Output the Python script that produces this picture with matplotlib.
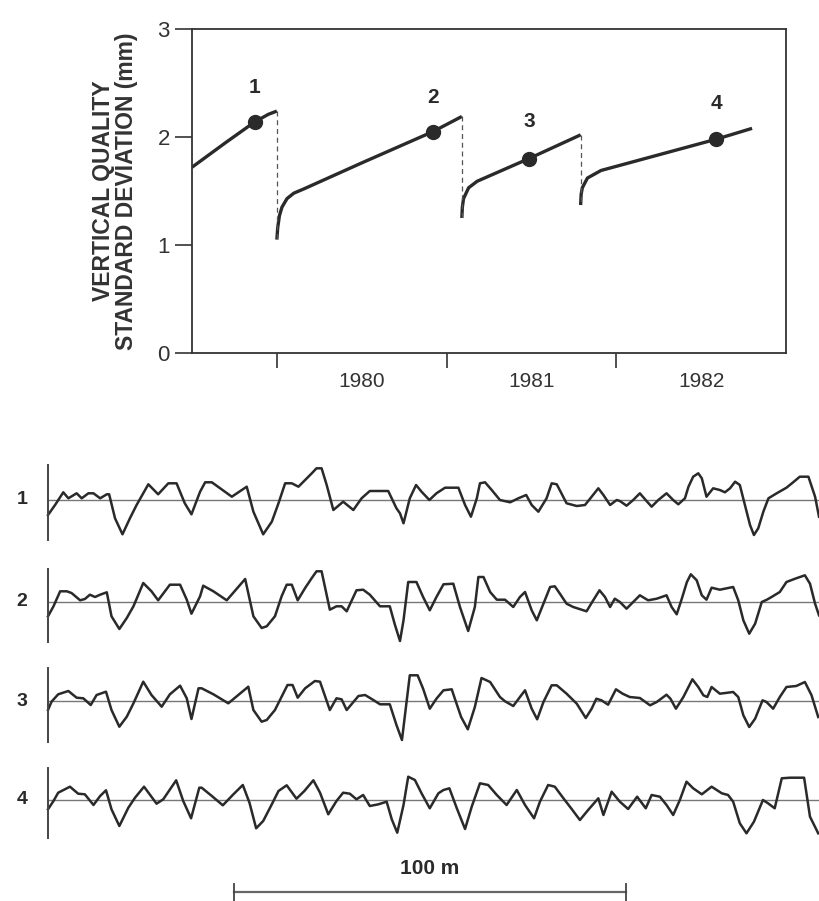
import matplotlib
matplotlib.use("Agg")
import matplotlib.pyplot as plt

plt.rcParams['font.family'] = ['Liberation Sans', 'DejaVu Sans']

# ---------------- Top chart data ----------------
seg1_t = [1979.50, 1979.70, 1979.87, 1979.95, 1980.00]
seg1_v = [1.72, 1.95, 2.14, 2.21, 2.24]
seg2_t = [1980.00, 1980.005, 1980.015, 1980.03, 1980.06, 1980.10, 1980.16, 1980.50, 1980.92, 1981.09]
seg2_v = [1.05, 1.16, 1.27, 1.35, 1.43, 1.48, 1.52, 1.76, 2.05, 2.19]
seg3_t = [1981.09, 1981.093, 1981.10, 1981.13, 1981.18, 1981.485, 1981.79]
seg3_v = [1.25, 1.35, 1.43, 1.53, 1.59, 1.80, 2.02]
seg4_t = [1981.79, 1981.793, 1981.80, 1981.83, 1981.91, 1982.59, 1982.80]
seg4_v = [1.37, 1.47, 1.53, 1.62, 1.69, 1.98, 2.08]
dot_t = [1979.87, 1980.92, 1981.485, 1982.59]
dot_v = [2.14, 2.05, 1.80, 1.98]
dot_labels = ["1", "2", "3", "4"]
label_v = [2.46, 2.37, 2.14, 2.31]
year_ticks = [1980, 1981, 1982]
year_labels = ["1980", "1981", "1982"]
y_ticks = [0, 1, 2, 3]

# ---------------- Bottom traces (distance m, deviation mm) ----------------
t1_d = [0, 1.8, 3.9, 5.2, 7.3, 8.6, 10.3, 11.6, 13.3, 15.0, 15.6, 17.1, 19.0, 20.9, 22.6, 25.6, 28.1,
        30.7, 32.8, 34.9, 36.6, 38.8, 40.1, 41.8, 46.9, 50.7, 52.4, 54.9, 57.1, 58.8, 60.5, 62.2,
        63.9, 65.6, 67.3, 68.5, 69.8, 71.1, 72.8, 75.3, 77.9, 80.0, 82.1, 86.8, 88.9,
        89.8, 90.7, 92.3, 93.9, 95.3, 97.3, 99.1, 101.3, 104.7, 106.4, 107.9, 109.4, 110.2, 111.5,
        113.2, 115.3, 117.9, 120.0, 122.0, 123.4, 125.1, 127.2, 128.5, 129.8, 132.3, 134.9, 137.0,
        138.7, 140.4, 141.7, 143.4, 145.1, 145.9, 147.6, 149.3, 151.0, 152.7, 154.0, 155.7, 157.8,
        159.5, 160.8, 162.5, 163.4, 164.6, 165.9, 166.8, 168.0, 169.7, 171.4, 172.7, 174.0, 175.3,
        176.5, 177.8, 179.1, 180.1, 181.2, 182.5, 183.8, 185.9, 188.4, 190.1, 191.8, 194.0, 195.7, 196.7]
t1_v = [-1.5, -0.5, 0.77, 0.17, 0.67, 0.17, 0.67, 0.67, 0.17, 0.57, 0.57, -1.83, -3.43, -1.83, -0.5,
        1.57, 0.57, 1.67, 1.67, -0.33, -1.43, 0.83, 1.77, 1.77, 0.33, 1.33, -1.17, -3.43, -2.17, -0.33,
        1.67, 1.67, 1.33, 2.0, 2.67, 3.17, 3.17, 1.5, -1.0, -0.17, -1.0, 0.17, 0.9, 0.9, -0.83,
        -1.33, -2.33, 0.17, 1.5, 0.83, 0.0, 0.67, 1.23, 1.23, -0.5, -1.67, 0.17, 1.67, 1.77,
        1.0, 0.0, -0.23, 0.17, 0.5, -0.5, -1.17, 0.17, 1.67, 1.57, -0.33, -0.6, -0.5,
        0.33, 1.17, 0.5, -0.5, 0.0, -0.1, -0.57, 0.0, 0.67, -0.1, -0.67, 0.0, 0.67,
        0.0, -0.43, 0.17, 1.33, 2.33, 2.67, 2.17, 0.33, 1.17, 1.0, 0.77, 1.17, 1.83,
        1.5, -0.5, -2.5, -3.5, -2.83, -1.17, 0.17, 0.67, 1.23, 1.77, 2.33, 2.33, 0.33, -1.67]

t2_d = [0, 1.4, 3.1, 4.8, 6.0, 8.2, 9.4, 10.7, 12.0, 13.3, 15.0, 16.2, 18.2, 20.1, 21.8, 24.3, 26.4,
        28.1, 31.1, 33.7, 35.4, 36.6, 38.8, 39.6, 42.2, 45.6, 50.3, 52.4, 54.5, 55.8, 57.9, 59.6,
        60.9, 62.2, 63.7, 65.6, 67.3, 68.5, 69.8, 71.9, 73.6, 74.9, 76.2, 78.7, 80.4, 82.1, 84.7,
        87.2, 88.5, 89.8,
        90.7, 91.9, 94.0, 95.7, 97.4, 99.1, 100.9, 103.4, 105.1, 107.2, 108.9, 109.8, 111.1, 112.8,
        114.5, 116.6, 118.7, 120.4, 121.7, 123.4, 124.7, 126.4, 128.1, 129.3, 130.6, 132.3, 134.0,
        137.4, 139.1, 140.7, 142.1, 143.4, 144.6, 145.9, 147.6, 149.3, 151.0, 153.1, 155.3, 157.8,
        159.1, 160.4, 161.7, 163.0, 164.0, 165.5, 166.8, 168.0, 169.3, 171.4, 174.8, 176.1, 177.4,
        178.9, 180.4, 182.1, 183.4, 184.6, 186.7, 188.4, 190.6, 193.1, 194.4, 195.7, 196.7]
t2_v = [-1.43, -0.43, 1.07, 1.07, 0.9, 0.17, 0.3, 0.73, 0.5, 0.73, 0.97, -1.43, -2.7, -1.6, -0.43,
        1.9, 1.07, 0.17, 1.73, 1.73, 0.23, -1.17, 0.57, 1.63, 1.07, 0.17, 2.3, -1.43, -2.6, -2.43,
        -1.43, 0.57, 1.73, 1.73, 0.17, 1.4, 2.4, 3.07, 3.07, -0.77, -0.43, -0.43, -0.93, 1.17, 1.23,
        0.73, -0.43, -0.43, -2.27, -3.9,
        -1.83, 2.0, 2.0, 0.5, -0.83, 0.5, 1.77, 1.83, -0.5, -2.9, -0.5, 2.5, 2.5, 1.0,
        0.23, 0.23, -0.5, 0.5, 1.0, -0.83, -1.83, -0.17, 1.5, 1.57, 0.83, -0.17, -0.5,
        -0.93, 0.17, 1.17, 0.5, -0.5, 0.33, 0.0, -0.67, 0.0, 0.67, 0.17, 0.33, 0.67,
        -0.5, -1.23, 0.33, 2.0, 2.77, 2.17, 0.67, 0.23, 1.43, 1.23, 1.5, 0.17, -1.83,
        -3.17, -2.17, 0.0, 0.23, 0.5, 1.0, 2.0, 2.33, 2.67, 1.83, -0.17, -1.33]

t3_d = [0, 0.9, 2.6, 5.2, 7.3, 9.0, 10.9, 12.4, 14.8, 16.2, 18.2, 20.1, 21.8, 24.3, 26.4, 29.0, 31.1,
        33.7, 35.4, 36.6, 38.4, 39.2, 42.2, 46.0, 51.1, 52.4, 54.5, 55.8, 57.9, 59.6, 61.1, 62.4,
        63.7, 65.6, 68.1, 69.4, 71.9, 73.6, 74.9, 76.2, 79.2, 80.9, 83.0, 84.7, 87.2, 88.9, 90.3,
        92.3, 94.3, 95.7, 97.4, 99.1, 100.9, 103.0, 103.8, 105.4, 107.1, 108.9, 110.6, 112.8, 115.3,
        116.6, 118.7, 120.4, 121.7, 123.4, 124.8, 126.4, 128.5, 129.8, 132.3, 134.9, 137.2, 138.7,
        139.9, 141.2, 142.9, 144.9, 146.6, 148.4, 151.0, 153.6, 155.3, 157.8, 158.8, 160.2, 162.1,
        164.4, 165.9, 167.2, 168.2, 169.3, 171.4, 174.8, 176.1, 177.4, 178.9, 180.4, 182.3, 183.3,
        185.0, 186.7, 188.4, 190.9, 193.1, 194.8, 196.5]
t3_v = [-0.9, -0.07, 0.67, 1.0, 0.33, 0.27, -0.4, 0.6, 0.93, -0.9, -2.57, -1.57, -0.23, 1.93, 0.6,
        -0.57, 0.67, 1.53, 0.27, -1.8, 1.27, 1.27, 0.67, -0.23, 1.43, -0.9, -2.07, -1.9, -0.9, 0.43,
        1.6, 1.6, 0.33, 1.27, 2.0, 1.93, -0.9, 0.27, 0.17, -0.9, 0.5, 0.6, 0.1, -0.33, -0.33, -2.4,
        -3.9,
        2.57, 2.57, 1.23, -0.77, 0.23, 1.07, 1.17, 0.23, -1.6, -2.83, -0.6, 2.3, 1.9, 0.4,
        -0.03, -0.5, 0.4, 1.07, -0.77, -1.83, -0.1, 1.57, 1.57, 0.73, -0.27, -1.7, -0.77,
        0.23, 0.07, -0.37, 1.17, 0.73, 0.4, 0.3, -0.43, -0.1, 0.63, 0.23, -0.77, 0.4,
        2.17, 1.4, 0.57, 0.4, 1.4, 0.73, 0.9, 0.4, -1.43, -2.6, -1.77, 0.07, -0.1,
        -0.77, 0.4, 1.4, 1.5, 1.9, 0.57, -1.6]

t4_d = [0, 1.4, 2.6, 5.6, 7.7, 9.4, 11.6, 13.3, 14.8, 16.2, 18.2, 20.5, 22.2, 24.5, 27.7, 29.4, 32.7,
        34.5, 36.5, 38.6, 39.2, 41.8, 44.6, 47.3, 49.7, 51.4, 53.1, 54.9, 57.1, 58.8, 60.9, 63.4,
        65.4, 67.7, 69.4, 71.5, 73.6, 75.3, 77.0, 78.7, 80.4, 82.1, 84.3, 86.4, 87.7, 89.1, 90.7,
        91.9, 93.6, 95.3, 97.4, 99.6, 100.9, 102.4, 104.3, 106.4, 108.1, 110.2, 112.3, 114.5, 117.0,
        119.6, 121.7, 124.0, 125.5, 127.6, 129.3, 131.5, 133.6, 135.7, 137.8, 140.4, 141.7, 143.8,
        145.9, 148.0, 150.3, 152.5, 154.0, 156.1, 157.8, 159.5, 161.2, 162.9, 164.6, 166.8, 169.3,
        171.9, 173.5, 174.8, 176.5, 178.2, 180.1, 182.4, 183.7, 185.4, 187.2, 189.3, 192.9, 194.4, 196.5]
t4_v = [-0.93, -0.1, 0.73, 1.33, 0.63, 0.57, -0.5, 0.4, 0.97, -0.93, -2.6, -0.77, 0.23, 1.33, -0.37,
        0.07, 1.97, -0.1, -1.83, 1.23, 1.23, 0.4, -0.53, 0.57, 1.5, -0.27, -2.83, -2.1, -0.43, 0.9,
        1.47, 0.13, 0.9, 1.97, 0.73, -1.43, -0.1, 0.73, 0.63, 0.07, 0.5, -0.6, -0.43, -0.17, -1.93,
        -3.27, -0.5,
        2.33, 2.0, 0.67, -0.83, 0.67, 1.0, 1.17, -0.83, -2.9, -0.67, 1.67, 1.5, 0.5, -0.5,
        1.0, -0.5, -1.83, -0.17, 1.5, 1.33, 0.17, -0.9, -2.0, -1.0, 0.17, -1.5, 0.83,
        -0.17, -0.9, 0.33, -0.83, 0.5, 0.33, -0.5, -1.5, 0.0, 1.83, 1.17, 0.57, 1.33,
        0.67, 0.5, -0.17, -2.33, -3.33, -2.17, 0.0, -0.33, -0.83, 2.17, 2.23, 2.23, -1.67, -3.33]

trace_names = ["1", "2", "3", "4"]
trace_d = [t1_d, t2_d, t3_d, t4_d]
trace_v = [t1_v, t2_v, t3_v, t4_v]
trace_len_m = 196.7
scale_start_m = 47.4
scale_len_m = 100
scale_label = "100 m"

# ---------------- Figure ----------------
W, H = 819, 901
fig = plt.figure(figsize=(W / 100, H / 100), dpi=100)

def box(x0, y0, x1, y1):
    """pixel box (top-left origin) -> figure fraction rect"""
    return [x0 / W, 1 - y1 / H, (x1 - x0) / W, (y1 - y0) / H]

LINE = '#2a2a2a'
TXT = '#333333'

ax = fig.add_axes(box(192, 29, 786, 353))
ax.set_xlim(1979.5, 1983.0)
ax.set_ylim(0, 3)
for sp in ax.spines.values():
    sp.set_linewidth(1.3)
    sp.set_color(TXT)

segs = [(seg1_t, seg1_v), (seg2_t, seg2_v), (seg3_t, seg3_v), (seg4_t, seg4_v)]
for t, v in segs:
    ax.plot(t, v, color=LINE, lw=2.4, solid_capstyle='butt')
for (ta, va), (tb, vb) in zip(segs[:-1], segs[1:]):
    ax.plot([ta[-1], tb[0]], [va[-1], vb[0]], color='#555555', lw=0.9,
            linestyle=(0, (4, 3)))
ax.plot(dot_t, dot_v, 'o', color=LINE, markersize=10)
for t, lv, s in zip(dot_t, label_v, dot_labels):
    ax.text(t, lv, s, ha='center', va='center', fontsize=15, fontweight='bold', color=LINE)

ax.set_yticks(y_ticks)
ax.set_yticklabels([str(y) for y in y_ticks], fontsize=16, color=TXT)
ax.set_xticks(year_ticks)
ax.set_xticklabels([])
ax.set_xticks([y + 0.5 for y in year_ticks], minor=True)
ax.set_xticklabels(year_labels, minor=True, fontsize=15, color=TXT)
ax.tick_params(axis='x', which='minor', length=0, pad=14)
ax.tick_params(axis='x', which='major', length=11, width=1.2, direction='out', color=TXT)
ax.tick_params(axis='y', length=12, width=1.2, direction='out', color=TXT, pad=4)
ax.set_ylabel("VERTICAL QUALITY\nSTANDARD DEVIATION (mm)", fontsize=16.5,
              fontweight='bold', color=TXT, labelpad=14, linespacing=1.0)

# ---------------- Traces ----------------
baselines = [500, 602, 701, 800]
spine_top = [465, 569, 668, 768]
spine_bot = [540, 642, 742, 838]
half = 4.5
for name, d, v, yb, st, sb in zip(trace_names, trace_d, trace_v, baselines, spine_top, spine_bot):
    a = fig.add_axes(box(48, yb - 45, W, yb + 45))
    a.set_xlim(0, trace_len_m)
    a.set_ylim(-half, half)
    for s in ['top', 'right', 'bottom']:
        a.spines[s].set_visible(False)
    a.spines['left'].set_linewidth(1.4)
    a.spines['left'].set_color('#444444')
    a.spines['left'].set_bounds(-(sb - yb) / 10, (yb - st) / 10)
    a.set_xticks([])
    a.set_yticks([])
    a.patch.set_visible(False)
    a.axhline(0, color='#777777', lw=1.0)
    a.plot(d, v, color=LINE, lw=1.8, clip_on=False)
    fig.text(22 / W, 1 - yb / H, name, ha='center', va='center', fontsize=14,
             fontweight='bold', color=LINE)

# ---------------- Scale bar ----------------
sa = fig.add_axes(box(48, 850, W, 901))
sa.set_xlim(0, trace_len_m)
sa.set_ylim(0, 1)
sa.axis('off')
sa.plot([scale_start_m, scale_start_m + scale_len_m], [0.17, 0.17], color='#666666', lw=1.6)
for x in [scale_start_m, scale_start_m + scale_len_m]:
    sa.plot([x, x], [0.0, 0.33], color='#444444', lw=1.3)
sa.text(scale_start_m + scale_len_m / 2, 0.64, scale_label, ha='center', va='center',
        fontsize=15, fontweight='bold', color=LINE)

fig.savefig("out.png", dpi=100)
